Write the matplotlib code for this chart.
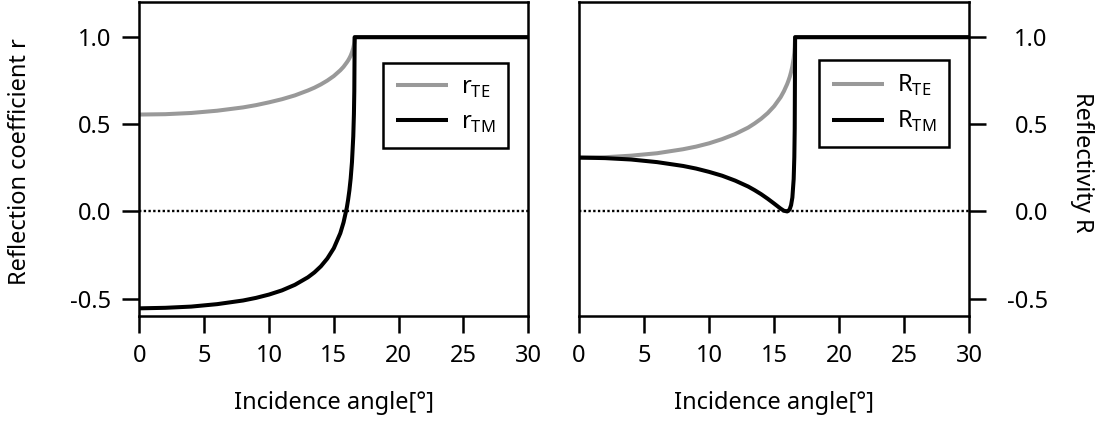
import matplotlib
matplotlib.use("Agg")
import matplotlib.pyplot as plt

plt.rcParams['font.family'] = ['Noto Sans', 'DejaVu Sans']
plt.rcParams['mathtext.fontset'] = 'custom'
plt.rcParams['mathtext.rm'] = 'Noto Sans'
plt.rcParams['font.size'] = 17

# incidence angle in degrees
angle = [0, 2, 4, 6, 8, 9, 10, 11, 12, 13, 13.5, 14, 14.5, 15, 15.5, 15.75,
         16, 16.1, 16.2, 16.3, 16.4, 16.5, 16.55, 16.58, 16.6, 16.61, 30]

# reflection coefficients
r_te = [0.556, 0.558, 0.565, 0.578, 0.597, 0.610, 0.626, 0.644, 0.666, 0.694,
        0.710, 0.729, 0.751, 0.777, 0.810, 0.830, 0.855, 0.866, 0.879, 0.894,
        0.913, 0.937, 0.955, 0.971, 0.992, 1.0, 1.0]
r_tm = [-0.556, -0.553, -0.546, -0.532, -0.511, -0.496, -0.477, -0.453, -0.421,
        -0.378, -0.350, -0.315, -0.270, -0.211, -0.125, -0.063, 0.021, 0.066,
        0.120, 0.189, 0.283, 0.431, 0.558, 0.690, 0.906, 1.0, 1.0]

# reflectivity
R_te = [0.309, 0.311, 0.320, 0.334, 0.357, 0.372, 0.391, 0.415, 0.444, 0.481,
        0.505, 0.532, 0.564, 0.604, 0.656, 0.690, 0.731, 0.751, 0.773, 0.800,
        0.833, 0.878, 0.912, 0.942, 0.984, 1.0, 1.0]
R_tm = [0.309, 0.306, 0.298, 0.283, 0.261, 0.246, 0.227, 0.205, 0.177, 0.143,
        0.122, 0.099, 0.073, 0.045, 0.016, 0.004, 0.000, 0.004, 0.014, 0.036,
        0.080, 0.186, 0.312, 0.476, 0.820, 1.0, 1.0]

xticks = [0, 5, 10, 15, 20, 25, 30]
yticks = [-0.5, 0.0, 0.5, 1.0]
gray = '#999999'
lw = 2.9

fig = plt.figure(figsize=(11.05, 4.21), dpi=100)
ax1 = fig.add_axes([0.1261, 0.2494, 0.3520, 0.7451])
ax2 = fig.add_axes([0.5240, 0.2494, 0.3532, 0.7451])

panels = [(ax1, r_te, r_tm, 'r'), (ax2, R_te, R_tm, 'R')]
for ax, te, tm, sym in panels:
    ax.axhline(0, color='black', lw=1.7, ls=(0, (1, 1)))
    ax.plot(angle, te, color=gray, lw=lw, label=sym + r'$_{\rm TE}$',
            solid_capstyle='butt')
    ax.plot(angle, tm, color='black', lw=lw, label=sym + r'$_{\rm TM}$',
            solid_capstyle='butt')
    ax.set_xlim(0, 30)
    ax.set_ylim(-0.6, 1.2)
    ax.set_xticks(xticks)
    ax.set_yticks(yticks)
    ax.set_yticklabels(['-0.5', '0.0', '0.5', '1.0'])
    for s in ax.spines.values():
        s.set_linewidth(1.8)
    ax.tick_params(direction='out', length=12.5, width=1.8, pad=8)
    ax.set_xlabel('Incidence angle[°]', labelpad=16)

legend_kw = dict(loc='upper left', fancybox=False, edgecolor='black',
                 framealpha=1, handlelength=2.2, borderpad=0.55,
                 labelspacing=0.45, handletextpad=0.55, borderaxespad=0)
leg1 = ax1.legend(bbox_to_anchor=(0.6257, 0.8075), **legend_kw)
leg2 = ax2.legend(bbox_to_anchor=(0.615, 0.816), **legend_kw)
for leg in (leg1, leg2):
    leg.get_frame().set_linewidth(1.8)

# right panel: ticks and labels on the right side only
ax2.tick_params(axis='y', left=False, labelleft=False, right=True,
                labelright=True, pad=44)
for lbl in ax2.get_yticklabels():
    lbl.set_horizontalalignment('right')

fig.text(20 / 1105, 1 - 162 / 421, 'Reflection coefficient r', rotation=90,
         ha='center', va='center')
fig.text(1082 / 1105, 1 - 162 / 421, 'Reflectivity R', rotation=-90,
         ha='center', va='center')

fig.savefig('out.png', dpi=100)
